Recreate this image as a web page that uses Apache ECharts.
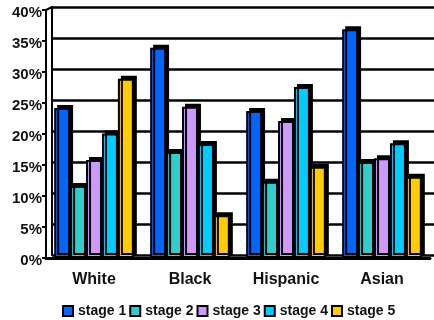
<!DOCTYPE html>
<html>
<head>
<meta charset="utf-8">
<script src="https://cdn.jsdelivr.net/npm/echarts@6/dist/echarts.min.js"></script>
<style>
  html, body { margin: 0; padding: 0; background: #fff; }
  #chart { width: 434px; height: 320px; }
</style>
</head>
<body>
<div id="chart"></div>
<script>
// Share of cases by stage at diagnosis, per group (%)
const categories = ['White', 'Black', 'Hispanic', 'Asian'];
const stageNames = ['stage 1', 'stage 2', 'stage 3', 'stage 4', 'stage 5'];
const stage1 = [24.2, 33.9, 23.7, 36.9];
const stage2 = [11.6, 17.1, 12.3, 15.5];
const stage3 = [15.8, 24.4, 22.1, 16.1];
const stage4 = [20.1, 18.4, 27.6, 18.5];
const stage5 = [28.9, 6.9, 14.7, 13.1];
const stageColors = ['#0066ff', '#33cccc', '#cc99ff', '#00ccff', '#ffcc00'];
const yMin = 0, yMax = 40, yStep = 5;

const FONT = '"Liberation Sans", Arial, sans-serif';
const stageValues = [stage1, stage2, stage3, stage4, stage5];

const chart = echarts.init(document.getElementById('chart'));

const series = stageNames.map((name, i) => ({
  name: name,
  type: 'bar',
  xAxisIndex: 1,
  yAxisIndex: 1,
  barGap: '0%',
  barCategoryGap: '17%',
  data: stageValues[i],
  animation: false,
  itemStyle: {
    color: stageColors[i],
    borderColor: '#000',
    borderWidth: 2,
    shadowColor: '#000',
    shadowBlur: 0,
    shadowOffsetX: 3,
    shadowOffsetY: -3
  }
}));

chart.setOption({
  animation: false,
  grid: [
    // back wall (carries the gridlines)
    { left: 52, right: 0, top: 7, bottom: 65 },
    // front plane (carries the bars and labels)
    { left: 46, right: 4, top: 10, bottom: 62 }
  ],
  xAxis: [
    { type: 'category', gridIndex: 0, data: categories, show: false },
    {
      type: 'category', gridIndex: 1, data: categories,
      axisLine: { lineStyle: { color: '#000', width: 3 } },
      axisTick: { length: 5, lineStyle: { color: '#000', width: 2 } },
      axisLabel: { color: '#111', fontFamily: FONT, fontWeight: 'bold', fontSize: 16, margin: 14 }
    }
  ],
  yAxis: [
    {
      type: 'value', gridIndex: 0, min: yMin, max: yMax, interval: yStep,
      axisLine: { show: true, lineStyle: { color: '#000', width: 2 } },
      axisTick: { show: false },
      axisLabel: { show: false },
      splitLine: { show: true, lineStyle: { color: '#000', width: 2.5 } }
    },
    {
      type: 'value', gridIndex: 1, min: yMin, max: yMax, interval: yStep,
      axisLine: { show: true, lineStyle: { color: '#000', width: 2 } },
      axisTick: { show: true, length: 4, lineStyle: { color: '#000', width: 2 } },
      splitLine: { show: false },
      axisLabel: {
        color: '#111', fontFamily: FONT, fontWeight: 'bold', fontSize: 15, margin: 4,
        formatter: '{value}%', verticalAlign: 'top', lineHeight: 6
      }
    }
  ],
  legend: {
    data: stageNames,
    left: 57,
    top: 299,
    itemWidth: 10,
    itemHeight: 10,
    itemGap: 3,
    icon: 'rect',
    itemStyle: { borderColor: '#000', borderWidth: 2, shadowColor: 'transparent', shadowOffsetX: 0, shadowOffsetY: 0 },
    textStyle: { color: '#111', fontFamily: FONT, fontWeight: 'bold', fontSize: 14 }
  },
  series: series
});

// Connect the front and back planes at the top of the left wall
const frontTop = chart.convertToPixel({ xAxisIndex: 1, yAxisIndex: 1 }, [0, yMax]);
const backTop = chart.convertToPixel({ xAxisIndex: 0, yAxisIndex: 0 }, [0, yMax]);
const frontLeft = chart.getModel().getComponent('grid', 1).coordinateSystem.getRect().x;
const backLeft = chart.getModel().getComponent('grid', 0).coordinateSystem.getRect().x;
chart.setOption({
  graphic: [{
    type: 'line',
    shape: { x1: frontLeft, y1: frontTop[1], x2: backLeft, y2: backTop[1] },
    style: { stroke: '#000', lineWidth: 2 }
  }]
});
</script>
</body>
</html>
